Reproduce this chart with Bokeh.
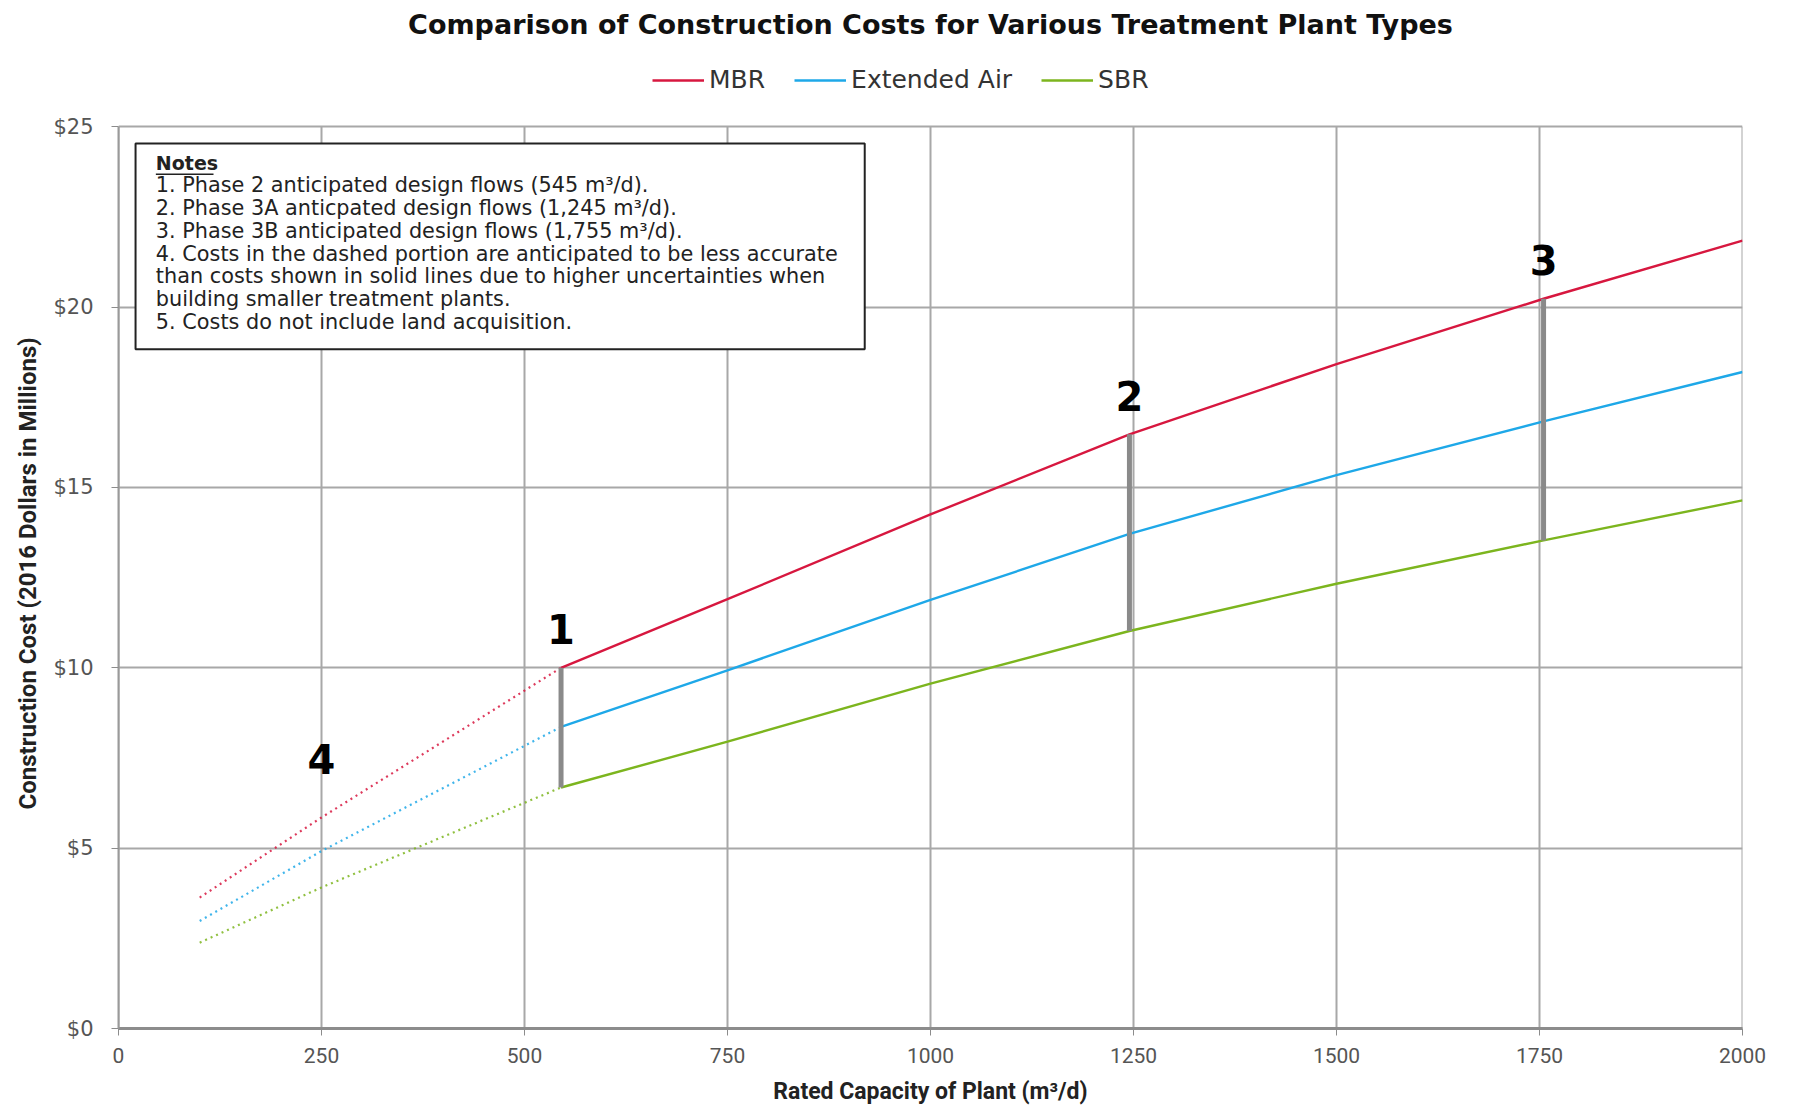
from bokeh.plotting import figure
from bokeh.models import (FixedTicker, PrintfTickFormatter, Legend, LegendItem,
                          Range1d, Title)
from bokeh.core.properties import value
from bokeh.embed import file_html
from bokeh.resources import INLINE

# ---------------- data ----------------
dash_x = [100, 250, 545]
dash_mbr = [3.63, 5.85, 10.0]
dash_ext = [2.98, 4.92, 8.36]
dash_sbr = [2.38, 3.91, 6.68]

solid_x = [545, 750, 1000, 1245, 1500, 1755, 2000]
solid_mbr = [10.0, 11.9, 14.25, 16.47, 18.42, 20.23, 21.84]
solid_ext = [8.36, 9.93, 11.88, 13.71, 15.34, 16.83, 18.2]
solid_sbr = [6.68, 7.95, 9.56, 11.02, 12.33, 13.53, 14.64]

phase_x = [545, 1245, 1755]
phase_labels = ["1", "2", "3"]
note4_x = 250
note4_label = "4"

series_names = ["MBR", "Extended Air", "SBR"]
x_ticks = [0, 250, 500, 750, 1000, 1250, 1500, 1750, 2000]
y_ticks = [0, 5, 10, 15, 20, 25]
y_max_tick = 25

notes_title = "Notes"
notes_lines = [
    "1. Phase 2 anticipated design flows (545 m\u00b3/d).",
    "2. Phase 3A anticpated design flows (1,245 m\u00b3/d).",
    "3. Phase 3B anticipated design flows (1,755 m\u00b3/d).",
    "4. Costs in the dashed portion are anticipated to be less accurate",
    "than costs shown in solid lines due to higher uncertainties when",
    "building smaller treatment plants.",
    "5. Costs do not include land acquisition.",
]

colors = ["#d7173f", "#1ea8e8", "#7cb51e"]

# ---------------- figure ----------------
Y_TOP = 27.25  # headroom above $25 holds the legend
p = figure(frame_width=1624, frame_height=983, output_backend="svg",
           toolbar_location=None,
           x_range=Range1d(0, 2000), y_range=Range1d(0, Y_TOP),
           min_border_left=118, min_border_right=36, min_border_top=45,
           min_border_bottom=60)
p.outline_line_color = None
p.background_fill_color = "white"
p.border_fill_color = "white"

p.title.text = "Comparison of Construction Costs for Various Treatment Plant Types"
p.title.align = "center"
p.title.text_font = "DejaVu Sans"
p.title.text_font_size = "27px"
p.title.text_font_style = "bold"
p.title.text_color = "#111111"
p.title.offset = -23
p.title.standoff = 12

# grids: horizontal via Grid, vertical drawn only up to $25
p.ygrid.ticker = FixedTicker(ticks=y_ticks)
p.ygrid.grid_line_color = "#a8a8a8"
p.ygrid.grid_line_width = 2
p.xgrid.grid_line_color = None
p.segment(x0=x_ticks, y0=[0] * len(x_ticks), x1=x_ticks,
          y1=[y_max_tick] * len(x_ticks), line_color="#a8a8a8", line_width=2)

# axes
p.xaxis.ticker = FixedTicker(ticks=x_ticks)
p.yaxis.ticker = FixedTicker(ticks=y_ticks)
p.yaxis.bounds = (0, y_max_tick)
p.yaxis.formatter = PrintfTickFormatter(format="$%d")
p.xaxis.axis_label = "Rated Capacity of Plant (m\u00b3/d)"
for ax in (p.xaxis, p.yaxis):
    ax.axis_label_text_font = "Roboto"
    ax.axis_label_text_font_style = "bold"
    ax.axis_label_text_font_size = "23px"
    ax.axis_label_text_color = "#222222"
    ax.major_tick_in = 0
    ax.major_tick_out = 7
    ax.minor_tick_out = 0
    ax.minor_tick_in = 0
    ax.major_tick_line_color = "#8c8c8c"
    ax.major_label_text_color = "#555555"
p.xaxis.axis_line_color = "#8c8c8c"
p.xaxis.axis_line_width = 3
p.yaxis.axis_line_color = "#9a9a9a"
p.yaxis.axis_line_width = 2
p.xaxis.major_label_text_font = "Roboto"
p.xaxis.major_label_text_font_size = "21px"
p.xaxis.major_label_standoff = 12
p.xaxis.axis_label_standoff = 12
p.yaxis.major_label_text_font = "DejaVu Sans"
p.yaxis.major_label_text_font_size = "21px"
p.yaxis.major_label_standoff = 18

ytitle = Title(text="Construction Cost (2016 Dollars in Millions)",
               align="left", offset=219, standoff=17,
               text_font="Roboto", text_font_style="bold",
               text_font_size="24px", text_color="#222222")
p.add_layout(ytitle, "left")

# ---------------- notes box ----------------
p.quad(left=[21], right=[919], top=[24.53], bottom=[18.83],
       fill_color="white", line_color="#222222", line_width=2)
p.text(x=[46], y=[24.0], text=[notes_title], text_font=value("DejaVu Sans"),
       text_font_size="19px", text_font_style="bold", text_color="#222222",
       text_baseline="middle")
p.segment(x0=[46], y0=[23.68], x1=[117], y1=[23.68], line_color="#222222",
          line_width=1.5)
notes_y = [24.0 - 0.63 * (i + 1) for i in range(len(notes_lines))]
p.text(x=[46] * len(notes_lines), y=notes_y, text=notes_lines,
       text_font=value("DejaVu Sans"), text_font_size="20.8px",
       text_color="#222222", text_baseline="middle")

# ---------------- series ----------------
dash_sets = [dash_mbr, dash_ext, dash_sbr]
solid_sets = [solid_mbr, solid_ext, solid_sbr]
items = []
for name, c, dy, sy in zip(series_names, colors, dash_sets, solid_sets):
    p.line(dash_x, dy, line_color=c, line_width=2.2, line_dash="2 4",
           line_alpha=0.85)
    r = p.line(solid_x, sy, line_color=c, line_width=2.4)
    items.append(LegendItem(label=name, renderers=[r]))

# phase bars
idx = [solid_x.index(x) for x in phase_x]
p.segment(x0=phase_x, y0=[solid_sbr[i] for i in idx], x1=phase_x,
          y1=[solid_mbr[i] for i in idx], line_color="#8a8a8a", line_width=5)

# phase labels
p.text(x=phase_x, y=[solid_mbr[i] + 0.65 for i in idx], text=phase_labels,
       text_font=value("DejaVu Sans"), text_font_size="40px",
       text_font_style="bold", text_color="black", text_align="center",
       text_baseline="bottom")
i4 = dash_x.index(note4_x)
p.text(x=[note4_x], y=[dash_mbr[i4] + 1.2], text=[note4_label],
       text_font=value("DejaVu Sans"), text_font_size="40px",
       text_font_style="bold", text_color="black", text_align="center",
       text_baseline="bottom")

legend = Legend(items=items, orientation="horizontal",
                location=(534, 934), padding=0, margin=0, spacing=29,
                glyph_width=52, glyph_height=20, label_standoff=5,
                label_text_font="DejaVu Sans", label_text_font_size="25px",
                label_text_color="#333333", border_line_color=None,
                background_fill_alpha=0)
p.add_layout(legend, "center")

open("out.html", "w").write(file_html(p, INLINE))
